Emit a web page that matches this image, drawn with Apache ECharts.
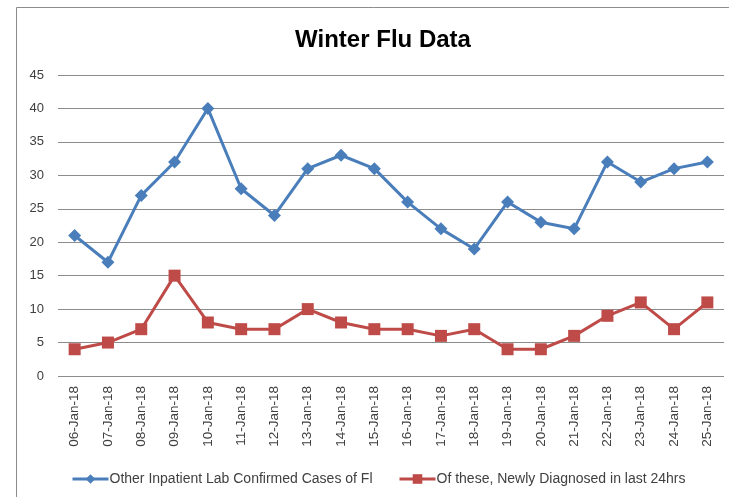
<!DOCTYPE html>
<html><head><meta charset="utf-8">
<script src="https://cdn.jsdelivr.net/npm/echarts@6/dist/echarts.min.js"></script>
<style>html,body{margin:0;padding:0;background:#fff}#c{width:729px;height:497px}</style>
</head><body><div id="c"></div>
<script>
const categories = ['06-Jan-18','07-Jan-18','08-Jan-18','09-Jan-18','10-Jan-18','11-Jan-18','12-Jan-18','13-Jan-18','14-Jan-18','15-Jan-18','16-Jan-18','17-Jan-18','18-Jan-18','19-Jan-18','20-Jan-18','21-Jan-18','22-Jan-18','23-Jan-18','24-Jan-18','25-Jan-18'];
const confirmed = [21,17,27,32,40,28,24,31,33,31,26,22,19,26,23,22,32,29,31,32];
const newlyDiagnosed = [4,5,7,15,8,7,7,10,8,7,7,6,7,4,4,6,9,11,7,11];
const seriesNames = ['Other Inpatient Lab Confirmed Cases of Fl','Of these, Newly Diagnosed in last 24hrs'];

const chart = echarts.init(document.getElementById('c'));
const font = 'Liberation Sans, Arial, sans-serif';
chart.setOption({
  animation: false,
  graphic: [{type:'rect', shape:{x:16.5,y:7.5,width:740,height:520}, style:{fill:'none', stroke:'#8c8c8c', lineWidth:1}}],
  title: {text:'Winter Flu Data', left: 378, textAlign:'center', top: 23,
    textStyle:{fontFamily:font, fontSize:24, fontWeight:'bold', color:'#000'}},
  grid: {left: 58, right: 5, top: 75, bottom: 121},
  legend: [
    {data:[seriesNames[0]], left: 66, top: 467, itemWidth: 36, itemHeight: 12,
     lineStyle:{width:3}, itemStyle:{borderWidth:0},
     textStyle:{fontFamily:font, fontSize:14, color:'#404040', padding:[0,0,0,-4]}},
    {data:[seriesNames[1]], left: 393, top: 467, itemWidth: 36, itemHeight: 12,
     lineStyle:{width:3}, itemStyle:{borderWidth:0},
     textStyle:{fontFamily:font, fontSize:14, color:'#404040', padding:[0,0,0,-4]}}
  ],
  xAxis: {type:'category', data: categories, boundaryGap: true,
    axisLine:{show:false}, axisTick:{show:false},
    axisLabel:{rotate:90, margin:10, fontFamily:font, fontSize:13.5, color:'#404040', interval:0}},
  yAxis: {type:'value', min:0, max:45, interval:5,
    axisLine:{show:false}, axisTick:{show:false},
    axisLabel:{margin:14, fontFamily:font, fontSize:13, color:'#404040'},
    splitLine:{lineStyle:{color:'#8c8c8c', width:1}}},
  series: [
    {name:seriesNames[0], type:'line', data: confirmed, symbol:'diamond', symbolSize:13,
     lineStyle:{color:'#4A7EBB', width:3}, itemStyle:{color:'#4A7EBB'}},
    {name:seriesNames[1], type:'line', data: newlyDiagnosed, symbol:'rect', symbolSize:12,
     lineStyle:{color:'#BE4B48', width:3}, itemStyle:{color:'#BE4B48'}}
  ]
});
</script></body></html>
